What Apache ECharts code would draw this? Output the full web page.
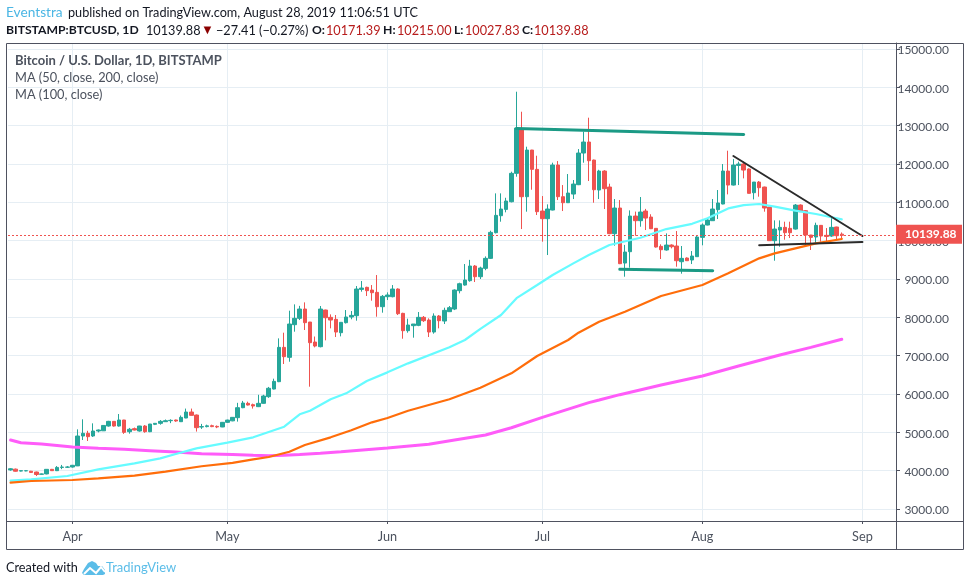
<!DOCTYPE html>
<html><head><meta charset="utf-8">
<style>html,body{margin:0;padding:0;background:#fff}#c{width:969px;height:586px}</style>
<script src="https://cdn.jsdelivr.net/npm/echarts@6/dist/echarts.min.js"></script>
</head><body><div id="c"></div>
<script>
// Candles, one row per day from 2019-03-20: [open, high, low, close]
const candleRows = [
[4020,4065,4000,4050],[4040,4055,3975,3985],[3990,4010,3980,4000],[3995,4005,3985,4000],[3985,3995,3950,3955],[3965,3975,3860,3900],[3905,3925,3895,3915],[3915,4040,3905,4035],[4035,4045,3995,4000],[4000,4120,3990,4085],[4085,4150,4040,4095],[4090,4120,4070,4095],
// Apr
[4095,4150,4080,4140],[4125,5078,4120,4904],[4904,5340,4800,4974],[4974,5040,4774,4887],[4905,5235,4880,5035],[5035,5075,5000,5061],[5040,5190,5035,5180],[5165,5300,5150,5287],[5287,5295,5150,5165],[5165,5478,5150,5322],[5322,5325,4960,5000],[5017,5115,4965,5080],[5096,5125,5050,5061],[5035,5170,5020,5165],[5165,5190,4990,5017],[5017,5217,5005,5217],[5209,5240,5190,5235],[5235,5320,5200,5287],[5278,5335,5270,5304],[5304,5340,5240,5313],[5322,5330,5275,5296],[5278,5440,5270,5391],[5374,5620,5370,5530],[5530,5620,5440,5443],[5452,5465,5020,5122],[5139,5220,5090,5150],[5150,5200,5130,5170],[5174,5200,5135,5150],[5155,5180,5110,5140],[5140,5270,5135,5261],
// May
[5261,5330,5250,5320],[5300,5400,5290,5391],[5383,5770,5280,5643],[5643,5820,5630,5765],[5757,5800,5700,5713],[5722,5750,5620,5687],[5670,5980,5660,5757],[5757,5980,5750,5948],[5930,6185,5900,6150],[6130,6400,6120,6330],[6322,7452,6310,7217],[7217,7600,6783,6974],[6957,8174,6843,7826],[7809,8339,7626,7974],[7974,8300,7930,8217],[8217,8391,7670,7861],[7878,7880,6191,7339],[7356,7500,7217,7252],[7235,8296,7217,8217],[8191,8200,7400,7991],[8000,8078,7713,7930],[7948,8061,7487,7617],[7600,7870,7504,7870],[7861,8191,7840,8009],[8009,8165,7950,8052],[8043,8817,7913,8739],[8730,8948,8670,8765],[8783,8800,8557,8696],[8713,8843,8435,8643],[8652,9104,8017,8278],[8278,8583,8122,8548],
// Jun
[8539,8652,8452,8583],[8539,8843,8522,8739],[8739,8757,8061,8096],[8104,8120,7443,7652],[7652,7965,7600,7800],[7783,7826,7470,7826],[7791,8139,7770,8000],[8000,8035,7880,7913],[7930,7974,7487,7617],[7617,8104,7574,8035],[8035,8061,7713,7913],[7904,8252,7826,8183],[8148,8296,8148,8252],[8217,8730,8190,8713],[8696,8904,8626,8878],[8843,9391,8826,8974],[8957,9500,8930,9339],[9339,9365,8922,9061],[9061,9322,9000,9287],[9278,9590,9230,9539],[9539,10260,9522,10217],[10209,11235,10190,10661],[10652,11235,10496,10826],[10817,11120,10740,11035],[11017,11800,11000,11757],[11757,13887,11670,12939],[12887,13365,10304,11148],[11148,12452,10757,12365],[12365,12370,11330,11861],[11861,12217,10670,10757],
// Jul
[10774,11165,9974,10574],[10574,10948,9626,10826],[10800,12035,10790,11974],[11974,12078,11061,11148],[11148,11452,10774,10991],[10991,11739,10985,11243],[11217,11583,11087,11478],[11461,12391,11450,12287],[12287,12843,12035,12574],[12574,13209,11557,12087],[12104,12115,10991,11330],[11322,11850,11087,11817],[11817,11840,10826,11357],[11400,11487,10170,10183],[10183,11087,9870,10852],[10852,11061,9390,9400],[9417,9890,9061,9704],[9713,10791,9296,10643],[10643,10760,10130,10522],[10522,11139,10365,10748],[10774,10830,10278,10591],[10617,10690,10304,10313],[10322,10325,9820,9835],[9852,9905,9522,9765],[9757,10191,9740,9887],[9887,9905,9800,9843],[9861,10252,9322,9478],[9452,9861,9139,9539],[9548,9565,9470,9478],[9496,9730,9391,9600],[9583,10140,9583,10096],
// Aug
[10087,10450,9880,10409],[10409,10590,10400,10539],[10522,11087,10520,10826],[10809,11322,10565,10983],[10957,12000,10950,11817],[11817,12348,11209,11452],[11452,12130,11440,11974],[11965,12061,11452,12000],[12000,12061,11626,11843],[11870,11885,11235,11235],[11252,11530,11078,11530],[11530,11557,11148,11383],[11400,11410,10757,10852],[10878,10880,10000,10000],[10000,10530,9478,10304],[10278,10530,9843,10348],[10348,10496,10026,10209],[10322,10496,10070,10209],[10304,10957,10290,10930],[10930,10948,10757,10757],[10783,10800,9887,10148],[10148,10150,9757,10087],[10096,10470,9922,10400],[10400,10410,9974,10122],[10140,10330,9974,10110],[10122,10626,10100,10348],[10357,10365,10026,10130],[10171.39,10215,10027.83,10139.88]
];
// Moving averages: [day index, value]
const ma50 = [[0,3739],[4,3774],[11,3861],[17,4035],[24,4191],[29,4322],[32,4435],[36,4583],[42,4730],[47,4870],[53,5148],[56,5470],[58,5565],[62,5862],[65,6018],[69,6340],[73,6565],[77,6800],[85,7218],[88,7409],[91,7700],[95,8061],[98,8500],[102,8843],[105,9104],[109,9409],[112,9626],[116,9887],[122,10078],[127,10304],[132,10440],[135,10587],[139,10843],[142,10930],[145,10957],[148,10887],[152,10783],[156,10696],[161,10557]];
const ma100 = [[0,3687],[4,3730],[12,3757],[17,3800],[24,3870],[30,3974],[37,4115],[43,4205],[47,4296],[50,4357],[54,4495],[57,4670],[62,4870],[66,5055],[70,5261],[73,5374],[77,5565],[85,5862],[91,6165],[97,6540],[102,6992],[108,7409],[110,7600],[114,7887],[119,8148],[126,8557],[134,8844],[139,9149],[145,9540],[148,9670],[152,9800],[156,9930],[161,10045]];
const ma200 = [[0,4800],[2,4730],[6,4696],[12,4617],[17,4583],[22,4557],[27,4522],[32,4487],[37,4440],[43,4425],[47,4400],[50,4391],[53,4405],[56,4420],[60,4455],[64,4495],[73,4591],[81,4687],[86,4800],[92,4930],[97,5121],[103,5391],[112,5775],[114,5844],[118,5983],[126,6235],[134,6470],[141,6731],[149,7018],[155,7218],[161,7428]];
// Hand-drawn trend lines: [day index, value]
const trendTop = [[98,12928],[142,12770]];
const trendFloor = [[118,9252],[136,9217]];
const wedgeUpper = [[140,12210],[165,10122]];
const wedgeLower = [[145,9880],[165,9966]];
const lastPrice = 10139.88;
const monthNames = {'04':'Apr','05':'May','06':'Jun','07':'Jul','08':'Aug','09':'Sep'};

const categories = [];
for (let i = 0; i < 172; i++) {
  categories.push(new Date(Date.UTC(2019, 2, 20 + i)).toISOString().slice(0, 10));
}
const isMonthStart = (idx) => categories[idx].slice(8) === '01';
const FONT = 'Lato';
const FS = 12.7;
const ink = '#4c525e', frame = '#4f5260', gridC = '#e6eef4';
const up = '#26a69a', down = '#ef5350';

const hline = (data, color, width) => ({type:'line', data, symbol:'none', silent:true,
  lineStyle:{color, width, cap:'round'}, z:5});
const piece = (left, top, text, color, size, weight) => ({left, top, padding:0, text,
  textStyle:{fontFamily:FONT, fontSize:size, fontWeight:weight, color}});
const dark = '#131722', valueRed = '#b71c1c';

const chart = echarts.init(document.getElementById('c'), null, {renderer:'canvas'});
chart.setOption({
  animation:false,
  backgroundColor:'#fff',
  textStyle:{fontFamily:FONT},
  title:[
    piece(6,6,'Eventstra','#4bb6e4',13.7,'normal'),
    piece(68,6,'published on TradingView.com, August 28, 2019 11:06:51 UTC',dark,FS,'normal'),
    piece(6,24,'BITSTAMP:BTCUSD, 1D',dark,12.2,'bold'),
    piece(146,24,'10139.88',dark,FS,'normal'),
    piece(201,23,'▼','#8b0000',13,'normal'),
    piece(216,24,'−27.41 (−0.27%)',dark,FS,'normal'),
    piece(312,24,'O:',dark,12.2,'bold'),
    piece(326,24,'10171.39',valueRed,FS,'normal'),
    piece(383,24,'H:',dark,12.2,'bold'),
    piece(397,24,'10215.00',valueRed,FS,'normal'),
    piece(454,24,'L:',dark,12.2,'bold'),
    piece(465,24,'10027.83',valueRed,FS,'normal'),
    piece(522,24,'C:',dark,12.2,'bold'),
    piece(534,24,'10139.88',valueRed,FS,'normal'),
    piece(15,54,'Bitcoin / U.S. Dollar, 1D, BITSTAMP',ink,13,'bold'),
    piece(15,71,'MA (50, close, 200, close)',ink,12.8,'normal'),
    piece(15,88,'MA (100, close)',ink,12.8,'normal')
  ],
  grid:{left:8, top:43, width:888, height:478, containLabel:false},
  xAxis:{
    type:'category', data:categories, boundaryGap:true,
    axisLine:{show:false},
    axisTick:{show:true, alignWithLabel:true, length:3, interval:isMonthStart, lineStyle:{color:frame}},
    splitLine:{show:true, alignWithLabel:true, interval:isMonthStart, lineStyle:{color:gridC, width:1}},
    axisLabel:{interval:isMonthStart, margin:9, fontFamily:FONT, fontSize:FS, color:ink,
      formatter:(v)=>monthNames[v.slice(5,7)]}
  },
  yAxis:{
    type:'value', position:'right', min:2687, max:15158, minInterval:1000, maxInterval:1000, scale:true,
    axisLine:{show:true, lineStyle:{color:frame}},
    axisTick:{show:true, length:4, lineStyle:{color:frame}},
    splitLine:{show:true, lineStyle:{color:gridC, width:1}},
    axisLabel:{margin:53, align:'right', verticalAlign:'top', lineHeight:3, fontFamily:FONT, fontSize:12, color:ink, showMinLabel:false, showMaxLabel:false,
      formatter:(v)=>v.toFixed(2)}
  },
  series:[
    {type:'candlestick', data:candleRows.map(r=>[r[0],r[3],r[2],r[1]]), barWidth:4, z:3, silent:true,
     itemStyle:{color:up, color0:down, borderColor:up, borderColor0:down, borderWidth:1},
     markLine:{silent:true, symbol:'none', z:20, animation:false,
       lineStyle:{color:down, type:[2,2], width:1},
       label:{show:true, position:'end', distance:0, offset:[0,-1], formatter:()=>lastPrice.toFixed(2), color:'#fff', fontFamily:FONT, fontSize:12, fontWeight:'bold',
         backgroundColor:down, width:57, height:19, lineHeight:19, padding:[0,0,0,9], align:'left'},
       data:[{yAxis:lastPrice}]}},
    hline(ma200,'#ff5cf9',3),
    hline(ma50,'#66fbff',2.2),
    hline(ma100,'#ff6d0a',2.2),
    hline(trendTop,'#1b9a85',3),
    hline(trendFloor,'#1b9a85',3),
    hline(wedgeUpper,'#2b2b2b',2),
    hline(wedgeLower,'#2b2b2b',2)
  ],
  graphic:[
    {type:'rect', shape:{x:6.5,y:43.5,width:957,height:506}, style:{fill:null, stroke:frame, lineWidth:1}, z:30},
    {type:'line', shape:{x1:6.5,y1:521.5,x2:963.5,y2:521.5}, style:{stroke:frame, lineWidth:1}, z:30},
    {type:'line', shape:{x1:896.5,y1:521.5,x2:896.5,y2:549.5}, style:{stroke:frame, lineWidth:1}, z:30},
    {type:'text', left:6, top:561, style:{text:'Created with', font:'12.7px Lato', fill:'#131722'}},
    {type:'text', left:106, top:561, style:{text:'TradingView', font:'13px Lato', fill:'#5bbde8'}},
    {type:'polygon', shape:{points:[[82,573],[84,569],[88,563],[92,561],[96,563],[98,566],[102,566],[105,570],[105,574],[103,575],[84,575]]}, style:{fill:'#5bbde8'}, z:2},
    {type:'polyline', shape:{points:[[84,574],[90,568],[96,573],[101,567],[105,572]]}, style:{fill:null, stroke:'#fff', lineWidth:2}, z:3}
  ]
});
</script></body></html>
